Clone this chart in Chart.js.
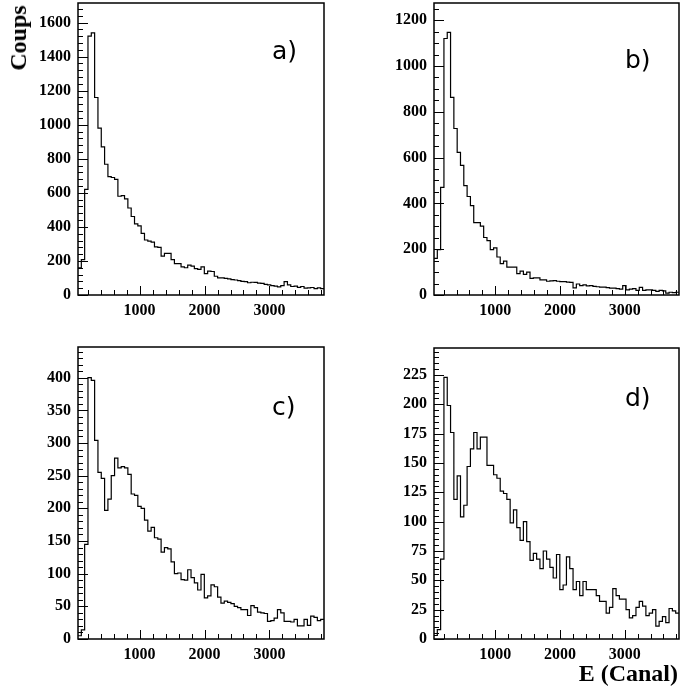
<!DOCTYPE html>
<html>
<head>
<meta charset="utf-8">
<script src="https://cdn.jsdelivr.net/npm/chart.js@4.4.1/dist/chart.umd.min.js"></script>
<style>
  body { margin: 0; background: #fff; }
  #page { position: relative; width: 683px; height: 689px; overflow: hidden; background: #fff; }
  canvas { position: absolute; }
  .tag { position: absolute; font-family: 'DejaVu Sans', sans-serif; font-size: 25px; line-height: 25px; color: #000; white-space: nowrap; }
  .title { position: absolute; font-family: 'Liberation Serif', serif; font-weight: bold; font-size: 24px; line-height: 24px; color: #000; white-space: nowrap; }
</style>
</head>
<body>
<div id="page">
  <canvas id="chartA" width="341" height="335" style="left:0;top:0"></canvas>
  <canvas id="chartB" width="327" height="335" style="left:356px;top:0"></canvas>
  <canvas id="chartC" width="341" height="335" style="left:0;top:344px"></canvas>
  <canvas id="chartD" width="327" height="335" style="left:356px;top:344px"></canvas>
  <div class="tag" style="left:272px;top:38px">a)</div>
  <div class="tag" style="left:625px;top:47px">b)</div>
  <div class="tag" style="left:272px;top:394px">c)</div>
  <div class="tag" style="left:625px;top:385px">d)</div>
  <div class="title" style="left:18px;top:38px;transform:translate(-50%,-50%) rotate(-90deg)">Coups</div>
  <div class="title" style="right:5px;top:661px">E (Canal)</div>
</div>
<script>
// histogram binning (channels)
const binStart = 51.2;
const binWidth = 51.2;

// counts per bin
const countsA = [160, 208, 620, 1520, 1540, 1160, 980, 870, 768, 695,
    690, 679, 580, 584, 564, 511, 461, 418, 406, 362,
    323, 317, 310, 283, 280, 228, 244, 244, 208, 184,
    184, 165, 160, 175, 170, 155, 150, 165, 125, 140,
    138, 110, 100, 100, 98, 95, 90, 88, 85, 80,
    78, 72, 75, 74, 70, 68, 62, 60, 55, 52,
    48, 55, 78, 60, 50, 52, 45, 50, 40, 42,
    44, 38, 42, 38];
const countsB = [160, 198, 470, 1120, 1147, 863, 727, 623, 566, 478,
    430, 390, 316, 316, 301, 251, 237, 198, 206, 166,
    137, 148, 122, 122, 122, 93, 104, 90, 100, 73,
    75, 75, 66, 66, 60, 62, 63, 60, 58, 58,
    56, 55, 31, 48, 41, 44, 40, 41, 38, 36,
    34, 34, 32, 30, 30, 28, 26, 41, 22, 26,
    28, 20, 33, 20, 22, 22, 20, 16, 20, 18,
    8, 12, 10, 12];
const countsC = [5, 14, 145, 400, 396, 304, 255, 246, 197, 214,
    250, 277, 262, 264, 262, 252, 222, 220, 203, 200,
    182, 165, 171, 155, 153, 133, 140, 138, 118, 100,
    101, 91, 90, 106, 94, 86, 75, 99, 63, 66,
    83, 80, 64, 55, 58, 56, 54, 50, 48, 45,
    45, 36, 51, 48, 41, 40, 39, 27, 28, 32,
    45, 40, 27, 27, 26, 30, 20, 20, 30, 21,
    35, 33, 28, 30];
const countsD = [3, 8, 68, 223, 199, 176, 119, 139, 104, 114,
    147, 162, 176, 162, 172, 172, 148, 148, 140, 137,
    126, 124, 119, 99, 110, 95, 84, 100, 83, 67,
    73, 68, 60, 75, 68, 61, 52, 72, 42, 46,
    70, 60, 42, 49, 37, 49, 42, 42, 42, 37,
    32, 32, 22, 27, 43, 37, 34, 34, 25, 18,
    20, 27, 32, 28, 20, 22, 25, 11, 15, 19,
    14, 26, 24, 22];

// tick labels
const xTicks = [1000, 2000, 3000];
const yTicksA = [0, 200, 400, 600, 800, 1000, 1200, 1400, 1600];
const yTicksB = [0, 200, 400, 600, 800, 1000, 1200];
const yTicksC = [0, 50, 100, 150, 200, 250, 300, 350, 400];
const yTicksD = [0, 25, 50, 75, 100, 125, 150, 175, 200, 225];

// draws the ROOT-style frame and inward tick marks from the chart's scales
const frameTicks = {
    id: 'frameTicks',
    afterDraw(chart, args, opts) {
        const ctx = chart.ctx;
        const a = chart.chartArea;
        const x = chart.scales.x;
        const y = chart.scales.y;
        ctx.save();
        ctx.strokeStyle = '#000';
        ctx.lineWidth = 1;
        ctx.beginPath();
        const yMinor = opts.yStep / opts.yDiv;
        for (let k = 0; k * yMinor <= y.max; k++) {
            const py = Math.round(y.getPixelForValue(k * yMinor)) + 0.5;
            const len = k % opts.yDiv === 0 ? 10 : 5;
            ctx.moveTo(a.left, py);
            ctx.lineTo(a.left + len, py);
        }
        for (let v = 200; v <= x.max; v += 200) {
            const px = Math.round(x.getPixelForValue(v)) + 0.5;
            const len = v % 1000 === 0 ? 9 : 5;
            ctx.moveTo(px, a.bottom);
            ctx.lineTo(px, a.bottom - len);
        }
        ctx.stroke();
        ctx.lineWidth = 1.5;
        ctx.strokeRect(a.left, a.top, a.right - a.left, a.bottom - a.top);
        ctx.restore();
    }
};

function makePanel(id, counts, yMax, yTicks, yDiv, pad, xHeight) {
    const points = counts.map((c, i) => ({x: binStart + i * binWidth, y: c}));
    points.push({x: binStart + counts.length * binWidth, y: counts[counts.length - 1]});
    const tickFont = {family: 'Liberation Serif', weight: 'bold', size: 16};
    return new Chart(document.getElementById(id), {
        type: 'line',
        data: {
            datasets: [{
                data: points,
                stepped: true,
                borderColor: '#000',
                borderWidth: 1.2,
                pointRadius: 0,
                fill: false
            }]
        },
        options: {
            responsive: false,
            animation: false,
            layout: {padding: pad},
            plugins: {
                legend: {display: false},
                tooltip: {enabled: false},
                frameTicks: {yStep: yTicks[1] - yTicks[0], yDiv: yDiv}
            },
            scales: {
                x: {
                    type: 'linear',
                    min: binStart,
                    max: binStart + counts.length * binWidth,
                    grid: {display: false, drawTicks: false},
                    border: {display: false},
                    afterFit: s => {
                        s.height = xHeight;
                        s.paddingLeft = 0;
                        s.paddingRight = 0;
                    },
                    afterBuildTicks: s => { s.ticks = xTicks.map(v => ({value: v})); },
                    ticks: {color: '#000', font: tickFont, padding: 6, maxRotation: 0,
                        callback: v => String(v)}
                },
                y: {
                    type: 'linear',
                    min: 0,
                    max: yMax,
                    grid: {display: false, drawTicks: false},
                    border: {display: false},
                    afterFit: s => {
                        s.width = 78;
                        s.paddingTop = 0;
                        s.paddingBottom = 0;
                    },
                    afterBuildTicks: s => { s.ticks = yTicks.map(v => ({value: v})); },
                    ticks: {color: '#000', font: tickFont, padding: 7,
                        callback: v => String(v)}
                }
            }
        },
        plugins: [frameTicks]
    });
}

makePanel('chartA', countsA, 1715, yTicksA, 5, {top: 3, right: 17, left: 0, bottom: 0}, 40);
makePanel('chartB', countsB, 1275, yTicksB, 4, {top: 3, right: 4, left: 0, bottom: 0}, 40);
makePanel('chartC', countsC, 447, yTicksC, 5, {top: 3, right: 17, left: 0, bottom: 0}, 40);
makePanel('chartD', countsD, 248, yTicksD, 5, {top: 4, right: 4, left: 0, bottom: 0}, 40);
</script>
</body>
</html>
